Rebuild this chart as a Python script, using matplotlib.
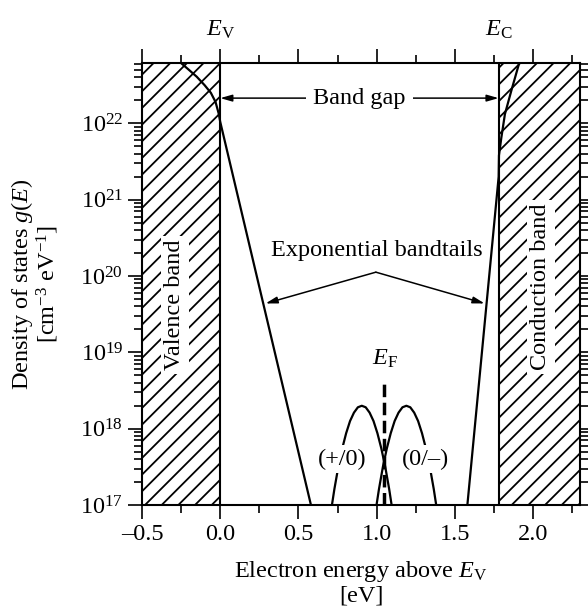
import numpy as np
import matplotlib.pyplot as plt
from matplotlib.ticker import LogLocator, NullFormatter, MultipleLocator

plt.rcParams["font.family"] = ["Liberation Serif", "DejaVu Serif"]
plt.rcParams["mathtext.fontset"] = "custom"
plt.rcParams["mathtext.rm"] = "Liberation Serif"
plt.rcParams["mathtext.it"] = "Liberation Serif:italic"
plt.rcParams["hatch.linewidth"] = 1.3
FS = 17.5

# band edges [eV above E_V]
E_V = 0.0
E_C = 1.78
E_F = 1.05

# valence band DOS + exponential tail (exponents of g in cm^-3 eV^-1)
vb_x = [-0.245, -0.20, -0.15, -0.10, -0.06, -0.03, -0.01, 0.0, 0.58]
vb_log = [22.78, 22.70, 22.61, 22.50, 22.40, 22.28, 22.13, 22.02, 17.0]

# conduction band tail + band DOS
cb_x = [1.58, 1.78, 1.782, 1.797, 1.82, 1.86, 1.91]
cb_log = [17.0, 21.3, 21.58, 21.81, 22.12, 22.42, 22.78]

# (+/0) defect band
d1_x = [0.715, 0.73, 0.755, 0.78, 0.805, 0.83, 0.855, 0.88, 0.905,
        0.93, 0.955, 0.98, 1.005, 1.03, 1.055, 1.08, 1.095]
d1_log = [17.01, 17.21, 17.50, 17.74, 17.94, 18.10, 18.21, 18.28, 18.30,
          18.28, 18.21, 18.10, 17.94, 17.74, 17.50, 17.21, 17.01]

# (0/-) defect band
d2_x = [1.0, 1.015, 1.04, 1.065, 1.09, 1.115, 1.14, 1.165, 1.19,
        1.215, 1.24, 1.265, 1.29, 1.315, 1.34, 1.365, 1.38]
d2_log = [17.01, 17.21, 17.50, 17.74, 17.94, 18.10, 18.21, 18.28, 18.30,
          18.28, 18.21, 18.10, 17.94, 17.74, 17.50, 17.21, 17.01]

fig = plt.figure(figsize=(5.88, 6.12), dpi=100)
ax = fig.add_axes([142 / 588, 107 / 612, 438 / 588, 442 / 612])

xmin, xmax = -0.5, 2.3
ymin, ymax = 1e17, 10 ** 22.79

# hatched band regions
ax.axvspan(xmin, E_V, facecolor="white", edgecolor="black", hatch="//", linewidth=0, zorder=1)
ax.axvspan(E_C, xmax, facecolor="white", edgecolor="black", hatch="//", linewidth=0, zorder=1)
ax.axvline(E_V, color="black", lw=1.5, zorder=2)
ax.axvline(E_C, color="black", lw=1.5, zorder=2)

lw = 1.6
ax.plot(vb_x, 10 ** np.array(vb_log), color="black", lw=lw, zorder=3)
ax.plot(cb_x, 10 ** np.array(cb_log), color="black", lw=lw, zorder=3)
ax.plot(d1_x, 10 ** np.array(d1_log), color="black", lw=lw, zorder=3)
ax.plot(d2_x, 10 ** np.array(d2_log), color="black", lw=lw, zorder=3)

# Fermi level
ax.plot([E_F, E_F], [ymin, 10 ** 18.6], color="black", lw=2.5, dashes=(3.6, 1.6), zorder=3)
ax.text(E_F, 10 ** 18.92, r"$E_\mathrm{F}$", fontsize=FS, ha="center", va="center")

white = dict(boxstyle="square,pad=0.15", facecolor="white", edgecolor="none")
ax.text(0.78, 10 ** 17.6, "(+/0)", fontsize=FS, ha="center", va="center", bbox=white, zorder=4)
ax.text(1.31, 10 ** 17.6, "(0/\u2013)", fontsize=FS, ha="center", va="center", bbox=white, zorder=4)

# band gap arrow
gap_y = 10 ** 22.33
ax.annotate("", xy=(E_V, gap_y), xytext=(E_C, gap_y),
            arrowprops=dict(arrowstyle="<|-|>,head_length=0.7,head_width=0.2",
                            color="black", lw=1.1, shrinkA=0, shrinkB=0), zorder=3)
ax.text((E_V + E_C) / 2, gap_y, "Band gap", fontsize=FS, ha="center", va="center",
        bbox=dict(boxstyle="square,pad=0.3", facecolor="white", edgecolor="none"), zorder=4)

# bandtail arrows
apex = (0.995, 10 ** 20.05)
for tip in [(0.29, 10 ** 19.64), (1.69, 10 ** 19.64)]:
    ax.annotate("", xy=tip, xytext=apex,
                arrowprops=dict(arrowstyle="-|>,head_length=0.7,head_width=0.2",
                                color="black", lw=1.1, shrinkA=0, shrinkB=0), zorder=3)
ax.text(1.0, 10 ** 20.33, "Exponential bandtails", fontsize=FS, ha="center", va="center")

ax.text(-0.29, 10 ** 19.62, "Valence band", fontsize=FS, rotation=90,
        ha="center", va="center", bbox=white, zorder=4)
ax.text(2.05, 10 ** 19.86, "Conduction band", fontsize=FS, rotation=90,
        ha="center", va="center", bbox=white, zorder=4)

ax.set_xlim(xmin, xmax)
ax.set_yscale("log")
ax.set_ylim(ymin, ymax)

ax.xaxis.set_major_locator(MultipleLocator(0.5))
ax.xaxis.set_minor_locator(MultipleLocator(0.25))
ax.xaxis.set_major_formatter(lambda v, p: f"{v:.1f}".replace("-", "\u2013"))
ax.yaxis.set_major_locator(LogLocator(base=10, numticks=20))
ax.yaxis.set_minor_locator(LogLocator(base=10, subs=np.arange(2, 10), numticks=20))
ax.yaxis.set_minor_formatter(NullFormatter())

ax.tick_params(which="both", direction="out", top=True, right=True, width=1.2,
               labelsize=FS)
ax.tick_params(which="major", length=10)
ax.tick_params(which="minor", length=6)
for s in ax.spines.values():
    s.set_linewidth(1.5)

ax.text(E_V, 1.05, r"$E_\mathrm{V}$", transform=ax.get_xaxis_transform(),
        fontsize=FS, ha="center", va="bottom")
ax.text(E_C, 1.05, r"$E_\mathrm{C}$", transform=ax.get_xaxis_transform(),
        fontsize=FS, ha="center", va="bottom")

ax.set_xlabel("Electron energy above $E_\\mathrm{V}$\n[eV]", fontsize=FS,
              linespacing=1.1, labelpad=10)
ax.set_ylabel("Density of states $g(E)$\n[cm$^{-3}$ eV$^{-1}$]", fontsize=FS,
              linespacing=1.0, labelpad=14)

fig.savefig("out.png", dpi=100, facecolor="white")
